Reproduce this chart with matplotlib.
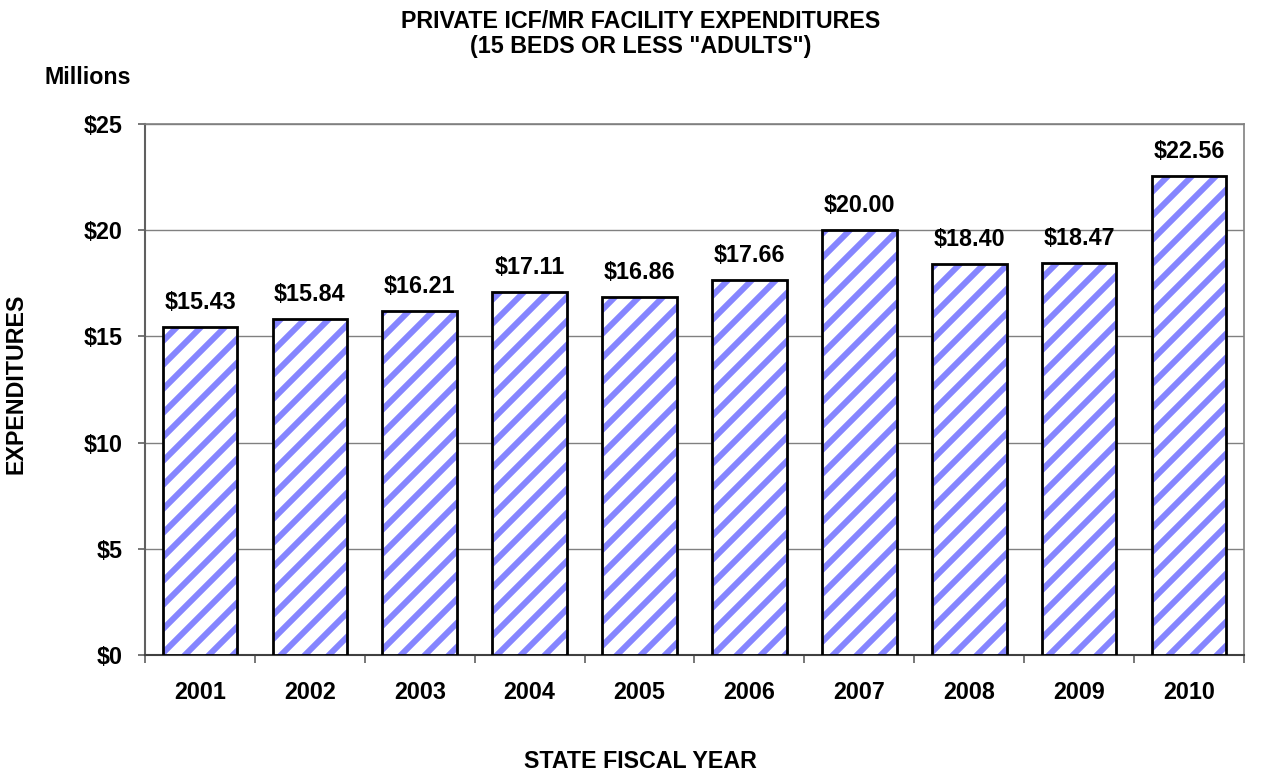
import matplotlib
matplotlib.use("Agg")
import matplotlib.pyplot as plt
import numpy as np

years = ["2001", "2002", "2003", "2004", "2005", "2006", "2007", "2008", "2009", "2010"]
values = [15.43, 15.84, 16.21, 17.11, 16.86, 17.66, 20.00, 18.40, 18.47, 22.56]
yticks = [0, 5, 10, 15, 20, 25]

# Render at 72 dpi so the hatch tile (72 pt) spacing matches the reference.
DPI = 72
K = 100 / DPI  # converts sizes designed for 100 dpi

plt.rcParams['font.family'] = ['Liberation Sans', 'DejaVu Sans']
plt.rcParams['font.weight'] = 'bold'
plt.rcParams['hatch.linewidth'] = 6.0

FS = 16.7 * K

fig = plt.figure(figsize=(1268 / DPI, 772 / DPI), dpi=DPI)
ax = fig.add_axes([0.1144, 0.1516, 0.981 - 0.1144, 0.8394 - 0.1516])

x = np.arange(len(years))
# hatch layer (hatch takes the edge colour)
ax.bar(x, values, width=0.68, facecolor='white', edgecolor='#8585FF',
       linewidth=0, hatch='/', zorder=3)
# outline layer
ax.bar(x, values, width=0.68, facecolor='none', edgecolor='black',
       linewidth=2 * K, zorder=4)
for xi, v in zip(x, values):
    ax.text(xi, v + 0.6, f"${v:.2f}", ha='center', va='bottom',
            fontsize=FS, fontweight='bold')

ax.set_xlim(-0.5, len(years) - 0.5)
ax.set_ylim(0, 25)
ax.set_yticks(yticks)
ax.set_yticklabels([f"${t}" for t in yticks], fontsize=FS, fontweight='bold')
ax.yaxis.grid(True, color='#808080', linewidth=1 * K, zorder=0)
ax.set_axisbelow(True)

ax.set_xticks(x)
ax.set_xticklabels(years, fontsize=FS, fontweight='bold')
ax.tick_params(axis='x', length=0, pad=19 * K)
ax.set_xticks(np.arange(-0.5, len(years) + 0.5, 1), minor=True)
ax.tick_params(axis='x', which='minor', length=6 * K, width=1.2 * K,
               color='#606060', direction='out')
ax.tick_params(axis='y', length=5 * K, width=1.2 * K, color='#606060',
               direction='out', pad=11 * K)

for s in ['left', 'top', 'right']:
    ax.spines[s].set_color('#808080')
    ax.spines[s].set_linewidth(1.2 * K)
ax.spines['left'].set_color('#606060')
ax.spines['left'].set_linewidth(1.5 * K)
ax.spines['bottom'].set_color('#404040')
ax.spines['bottom'].set_linewidth(1.5 * K)

fig.text(0.505, 0.987, 'PRIVATE ICF/MR FACILITY EXPENDITURES\n(15 BEDS OR LESS "ADULTS")',
         ha='center', va='top', fontsize=FS, fontweight='bold', linespacing=1.12)
fig.text(0.069, 0.899, 'Millions', ha='center', va='center', fontsize=FS, fontweight='bold')
fig.text(0.013, 0.503, 'EXPENDITURES', ha='center', va='center', rotation=90,
         fontsize=FS, fontweight='bold')
fig.text(0.505, 0.013, 'STATE FISCAL YEAR', ha='center', va='center',
         fontsize=FS, fontweight='bold')

fig.savefig('out.png', dpi=DPI)
